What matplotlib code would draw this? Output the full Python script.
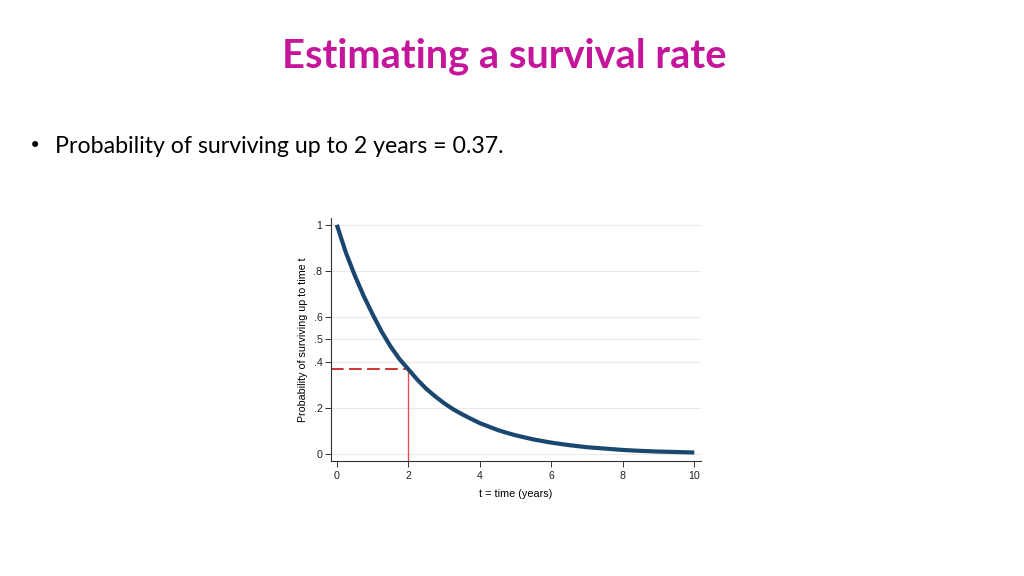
import matplotlib
matplotlib.use("Agg")
import matplotlib.pyplot as plt

# Data
t_years = [0, 0.25, 0.5, 0.75, 1, 1.25, 1.5, 1.75, 2, 2.25, 2.5, 2.75, 3, 3.25, 3.5, 3.75,
           4, 4.25, 4.5, 4.75, 5, 5.5, 6, 6.5, 7, 7.5, 8, 8.5, 9, 9.5, 10]
survival = [1.0, 0.88, 0.78, 0.69, 0.61, 0.535, 0.47, 0.415, 0.37, 0.325, 0.285, 0.252,
            0.222, 0.196, 0.174, 0.154, 0.135, 0.12, 0.105, 0.093, 0.082, 0.064,
            0.05, 0.039, 0.03, 0.024, 0.018, 0.014, 0.011, 0.009, 0.007]
marker_t = 2
marker_s = 0.37
y_ticks = [0, 0.2, 0.4, 0.5, 0.6, 0.8, 1]
y_ticklabels = ["0", ".2", ".4", ".5", ".6", ".8", "1"]
x_ticks = [0, 2, 4, 6, 8, 10]

fig = plt.figure(figsize=(10.24, 5.76), dpi=100)
fig.patch.set_facecolor("white")

fig.text(0.492, 0.902, "Estimating a survival rate", ha="center", va="center",
         fontsize=28.7, fontweight="bold", color="#C4159B", family="Lato")
fig.text(0.028, 0.746, "\u2022", ha="left", va="center", fontsize=15, color="black", family="DejaVu Sans")
fig.text(0.054, 0.746, "Probability of surviving up to 2 years = 0.37.", ha="left", va="center",
         fontsize=16.7, color="black", family="Lato")

ax = fig.add_axes([0.323, 0.1997, 0.362, 0.422])
xmin, ymin = -0.17, -0.03
ax.set_xlim(xmin, 10.2)
ax.set_ylim(ymin, 1.03)

for yv in y_ticks:
    ax.axhline(yv, color="#eaeaea", lw=0.8, zorder=0)

ax.plot(t_years, survival, color="#1a476f", lw=3.0, solid_capstyle="butt",
        solid_joinstyle="round", zorder=3)
ax.plot([xmin, marker_t], [marker_s, marker_s], color="#cc2222", lw=1.3, ls=(0, (7, 3)), zorder=2)
ax.plot([marker_t, marker_t], [ymin, marker_s], color="#e3504f", lw=1.0, zorder=2)

ax.set_yticks(y_ticks)
ax.set_yticklabels(y_ticklabels)
ax.set_xticks(x_ticks)
for s in ["top", "right"]:
    ax.spines[s].set_visible(False)
for s in ["left", "bottom"]:
    ax.spines[s].set_color("#333333")
    ax.spines[s].set_linewidth(0.8)
ax.tick_params(axis="both", labelsize=7.7, length=4, width=0.7, color="#333333", pad=2,
               labelcolor="#222222")
ax.tick_params(axis="x", pad=3)
for lab in ax.get_xticklabels() + ax.get_yticklabels():
    lab.set_family("Liberation Sans")
ax.set_xlabel("t = time (years)", fontsize=7.8, family="Liberation Sans", labelpad=6)
ax.set_ylabel("Probability of surviving up to time t", fontsize=7.7, family="Liberation Sans", labelpad=4)

fig.savefig("out.png", dpi=100, facecolor="white")
